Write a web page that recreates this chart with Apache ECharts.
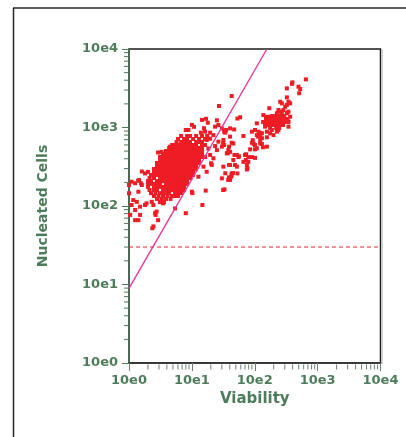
<!DOCTYPE html>
<html>
<head>
<meta charset="utf-8">
<script src="https://cdn.jsdelivr.net/npm/echarts@6/dist/echarts.min.js"></script>
<style>
  html, body { margin: 0; padding: 0; background: #fff; }
  #chart { width: 406px; height: 437px; }
</style>
</head>
<body>
<div id="chart"></div>
<script>
// main cell cluster, read row by row: [nucleated cells, [viability values]]
const mainClusterRows = [
  [779, [6.73, 8.39, 9.36, 11.67, 14.5]],
  [714, [6.03, 7.51, 8.39, 10.45, 13.0, 16.2]],
  [653, [5.7, 6.73, 7.51, 8.39, 9.36, 11.67, 13.0, 14.5]],
  [598, [4.84, 5.4, 6.03, 6.73, 7.51, 8.39, 9.36, 10.45, 11.67, 14.5, 16.2]],
  [548, [4.34, 4.84, 5.4, 6.03, 6.73, 7.51, 8.39, 9.36, 10.45, 11.67, 13.0, 14.5]],
  [502, [3.88, 4.34, 4.84, 5.4, 6.03, 6.73, 7.51, 8.39, 9.36, 10.45, 11.67, 13.0, 14.5]],
  [460, [3.48, 3.88, 4.34, 4.84, 5.4, 6.03, 6.73, 7.51, 8.39, 9.36, 10.45, 11.67, 13.0, 14.5]],
  [421, [3.12, 3.48, 3.88, 4.34, 4.84, 5.4, 6.03, 6.73, 7.51, 8.39, 9.36, 10.45, 11.67, 13.0, 14.5]],
  [385, [3.12, 3.48, 3.88, 4.34, 4.84, 5.4, 6.03, 6.73, 7.51, 8.39, 9.36, 10.45, 11.67, 13.0]],
  [353, [2.79, 3.12, 3.48, 3.88, 4.34, 4.84, 5.4, 6.03, 6.73, 7.51, 8.39, 9.36, 10.45, 11.67, 13.0]],
  [323, [2.79, 3.12, 3.48, 3.88, 4.34, 4.84, 5.4, 6.03, 6.73, 7.51, 8.39, 9.36, 10.45, 11.67]],
  [296, [2.5, 2.79, 3.12, 3.48, 3.88, 4.34, 4.84, 5.4, 6.03, 6.73, 7.51, 8.39, 9.36, 10.45, 11.67]],
  [271, [2.5, 2.79, 3.12, 3.48, 3.88, 4.34, 4.84, 5.4, 6.03, 6.73, 7.51, 8.39, 9.36, 10.45]],
  [248, [2.24, 2.5, 2.79, 3.12, 3.48, 3.88, 4.34, 4.84, 5.4, 6.03, 6.73, 7.51, 8.39, 9.36, 10.45]],
  [227, [2.12, 2.5, 3.12, 3.48, 3.88, 4.34, 4.84, 5.4, 6.03, 6.73, 7.51, 8.39, 9.36]],
  [208, [2.01, 2.24, 2.79, 3.12, 3.48, 3.88, 4.34, 4.84, 5.4, 6.03, 6.73, 7.51, 8.39]],
  [191, [2.01, 2.24, 2.5, 2.79, 3.12, 3.88, 4.34, 4.84, 5.4, 6.03, 6.73, 7.51, 8.39]],
  [175, [2.01, 2.5, 2.79, 3.12, 3.48, 3.88, 4.34, 4.84, 5.4, 6.03, 6.73, 7.51]],
  [160, [2.12, 2.5, 2.79, 3.48, 3.88, 4.34, 4.84, 5.4, 6.03, 6.73, 7.51]],
  [146, [2.24, 2.64, 3.12, 3.48, 3.88, 4.34, 5.4, 6.03, 6.73]],
  [134, [2.5, 2.95, 3.48, 4.1, 4.84, 5.4, 6.03]],
  [123, [2.79, 3.3, 3.88, 4.58]],
  [112, [3.1, 3.6]]
];

// scattered events around the main cluster and between the two clusters
const sideScatter = [
  [10, 1080], [14.5, 1250], [16.8, 1290], [17.9, 1150], [15.6, 980], [8.0, 930], [10.8, 1020], [8.8, 930],
  [2.9, 480], [3.3, 490], [4.0, 470], [4.5, 570],
  [1.6, 275], [1.8, 260], [2.0, 272], [1.1, 204], [1.4, 210], [1.55, 195], [1.0, 185], [1.25, 195],
  [1.44, 214], [1.6, 185], [1.41, 152], [1.0, 145], [1.17, 119], [1.1, 103], [1.33, 113], [1.25, 89],
  [1.41, 66], [1.8, 103], [1.9, 108], [2.3, 113], [2.44, 103], [2.6, 81], [2.75, 85], [2.65, 77],
  [2.9, 66], [2.45, 55], [2.35, 52], [1.5, 98], [1.04, 77], [1.5, 77], [1.25, 66], [3.3, 119], [3.48, 108],
  [5.4, 93], [8.0, 81], [10, 152], [10.2, 146], [14.7, 103], [16.6, 157], [33, 163], [39, 232], [43, 248],
  [15.3, 317], [30, 225], [34, 261], [34, 885], [31.7, 693], [38, 516], [43, 640], [47.5, 447],
  [43, 2520], [27, 1880], [25, 1235], [13.9, 860], [16.2, 885], [17.5, 780], [19.5, 720], [53, 1300],
  [58.6, 1350], [30, 975], [35, 930], [40.5, 975], [47, 945], [31.4, 635], [30, 570], [39, 570], [66, 780],
  [108, 1130], [101, 930], [122, 850], [113, 765], [93, 690], [122, 690], [108, 545], [156, 570],
  [52, 447], [56, 430], [73, 456], [90, 420], [101, 410], [39, 333], [52, 317], [72, 385], [76.5, 302],
  [45, 263], [40.5, 227], [37.8, 215], [31.4, 160], [90, 885], [108, 800], [130, 730], [156, 750],
  [135, 560], [32.6, 885], [40.5, 765], [45.7, 625], [32.6, 598], [90, 640], [101, 598], [122, 625],
  [23.4, 1025], [26.4, 1075], [33.8, 860], [146, 1025], [187, 930], [199, 800], [96, 616], [130, 616],
  [84.5, 527], [101, 527], [40.5, 490], [37, 470], [55, 420], [70, 447], [79, 420], [66, 365], [79, 365],
  [40.5, 333], [75, 292], [43, 260], [42, 236], [40.5, 215], [53, 260], [20.2, 350], [20.7, 334],
  [17.2, 273], [12.7, 236], [19.5, 860], [22, 800], [17.2, 693], [23.4, 580], [18.3, 540], [19.5, 447],
  [16.2, 420], [22, 405], [25, 516], [36, 469], [31.7, 317], [45.7, 385], [48.5, 333], [26.4, 660], [75, 333]
];

// upper right cluster
const rightCluster = [
  [650, 4100], [398, 3760], [390, 3600], [496, 3310], [528, 3090], [509, 2730], [324, 3150], [324, 2420],
  [254, 2130], [270, 2030], [344, 2130], [366, 2030], [305, 1840], [324, 1940], [286, 1670], [170, 1760],
  [238, 1670], [254, 1590], [225, 1520], [270, 1520], [344, 1590], [324, 1520], [366, 1370], [137, 1440],
  [156, 1370], [176, 1370],
  [188, 1400], [211, 1400], [236, 1400], [263, 1400], [294, 1400],
  [151, 1282], [169, 1282], [188, 1282], [211, 1282], [236, 1282], [263, 1282], [294, 1282], [328, 1282],
  [136, 1175], [151, 1175], [169, 1175], [188, 1175], [211, 1175], [236, 1175], [263, 1175], [294, 1175], [340, 1175],
  [146, 1076], [163, 1076], [182, 1076], [204, 1076], [227, 1076], [254, 1076], [283, 1076],
  [176, 986], [219, 986], [245, 986],
  [344, 1190], [344, 1025], [115, 885], [130, 843], [122, 800], [156, 885], [176, 843], [225, 885], [238, 930]
];

const diagLine = [[1, 8.9], [156, 10000]];
const cutoffLevel = 30;
const axisMin = 1;
const axisMax = 10000;

const mainCluster = mainClusterRows.flatMap(([y, xs]) => xs.map(x => [x, y]));
const events = mainCluster.concat(sideScatter, rightCluster);

// 2..9 within each decade, for the log minor ticks
const minorTickValues = [];
for (let d = 0; d < 4; d++) {
  for (let m = 2; m <= 9; m++) minorTickValues.push(m * Math.pow(10, d));
}

const green = '#4c7c5a';
const tickGrey = '#6e7f70';
const font = 'DejaVu Sans';
const decadeLabel = v => '10e' + Math.round(Math.log10(v));

const chart = echarts.init(document.getElementById('chart'), null, { renderer: 'canvas' });

const option = {
  animation: false,
  backgroundColor: '#fff',
  graphic: { elements: [
    { type: 'line', shape: { x1: 13, y1: 8, x2: 406, y2: 8 }, style: { stroke: '#5e5e5e', lineWidth: 2 } },
    { type: 'line', shape: { x1: 13.5, y1: 8, x2: 13.5, y2: 437 }, style: { stroke: '#262626', lineWidth: 1.5 } },
    { type: 'line', shape: { x1: 382, y1: 50, x2: 382, y2: 364 }, style: { stroke: '#c8c8c8', lineWidth: 1.5 } }
  ] },
  grid: {
    left: 129, top: 49, width: 251.5, height: 314,
    show: true, borderColor: '#1c1c1c', borderWidth: 1.5
  },
  xAxis: {
    type: 'log', logBase: 10, min: axisMin, max: axisMax, splitNumber: 4,
    name: 'Viability', nameLocation: 'middle', nameGap: 27,
    nameTextStyle: { color: green, fontFamily: font, fontWeight: 'bold', fontSize: 15 },
    axisLine: { lineStyle: { color: '#3a3a3a', width: 2 } },
    axisTick: { length: 8, lineStyle: { color: tickGrey, width: 1 } },
    axisLabel: { formatter: decadeLabel, margin: 11, color: green, fontFamily: font, fontWeight: 'bold', fontSize: 13 },
    splitLine: { show: false }
  },
  yAxis: {
    type: 'log', logBase: 10, min: axisMin, max: axisMax, splitNumber: 4,
    name: 'Nucleated Cells', nameLocation: 'middle', nameGap: 79,
    nameTextStyle: { color: green, fontFamily: font, fontWeight: 'bold', fontSize: 14 },
    axisLine: { lineStyle: { color: '#4d6e55', width: 1.5 } },
    axisTick: { length: 7, lineStyle: { color: green, width: 1 } },
    axisLabel: { formatter: decadeLabel, margin: 11, color: green, fontFamily: font, fontWeight: 'bold', fontSize: 13 },
    splitLine: { show: false }
  },
  series: [
    {
      // minor ticks below the x axis
      type: 'scatter', silent: true, clip: false, z: 1,
      data: minorTickValues.map(v => [v, axisMin]),
      symbol: 'rect', symbolSize: [1, 5], symbolOffset: [0, 4],
      itemStyle: { color: tickGrey, opacity: 1 }
    },
    {
      // minor ticks left of the y axis
      type: 'scatter', silent: true, clip: false, z: 1,
      data: minorTickValues.map(v => [axisMin, v]),
      symbol: 'rect', symbolSize: [4, 1], symbolOffset: [-3, 0],
      itemStyle: { color: green, opacity: 1 }
    },
    {
      type: 'line', silent: true, z: 2, showSymbol: false,
      data: [[axisMin, cutoffLevel], [axisMax, cutoffLevel]],
      lineStyle: { color: '#e3262d', width: 1, type: [4, 3] }
    },
    {
      type: 'scatter', silent: true, z: 3,
      symbol: 'rect', symbolSize: 4,
      data: events,
      itemStyle: { color: '#ee1c24', opacity: 1 }
    },
    {
      type: 'line', silent: true, z: 4, showSymbol: false,
      data: diagLine,
      lineStyle: { color: '#e4399c', width: 1.4 }
    }
  ]
};

chart.setOption(option);
</script>
</body>
</html>
